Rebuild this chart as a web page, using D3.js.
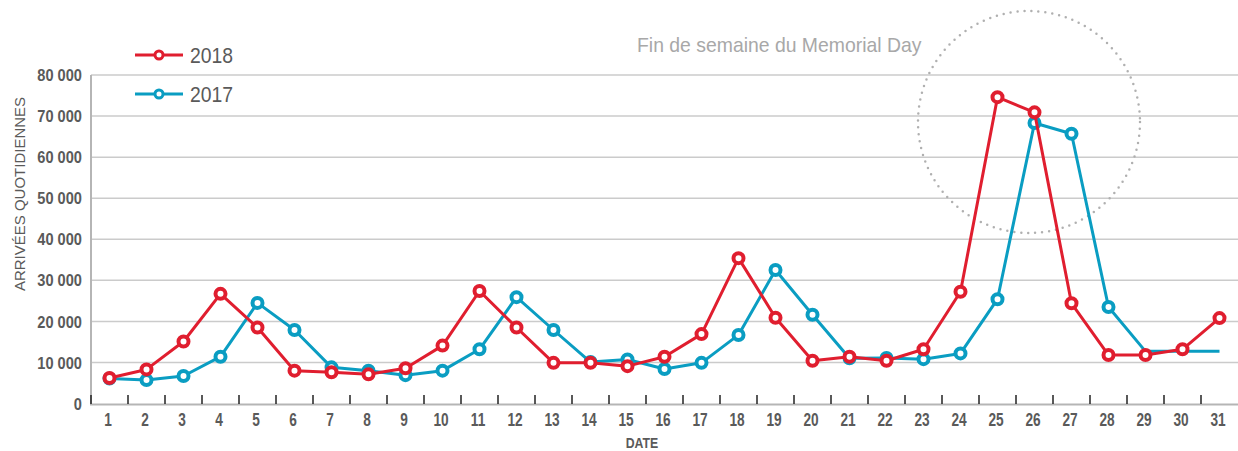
<!DOCTYPE html>
<html>
<head>
<meta charset="utf-8">
<script src="https://cdn.jsdelivr.net/npm/d3@7"></script>
<style>
  body { margin: 0; background: #fff; }
  svg text { font-family: "Liberation Sans", Arial, sans-serif; }
</style>
</head>
<body>
<div id="chart"></div>
<script>
// days of the month
const days = d3.range(1, 32);
// daily arrivals
const arrivals2018 = [6200, 8300, 15100, 26700, 18500, 8000, 7600, 7100, 8600, 14100,
  27400, 18500, 9900, 9900, 9100, 11400, 16900, 35400, 20900, 10400,
  11400, 10400, 13200, 27200, 74600, 70900, 24400, 11800, 11800, 13200, 20800];
const arrivals2017 = [6100, 5700, 6700, 11400, 24500, 17900, 8800, 8000, 6900, 8000,
  13200, 25900, 17900, 10100, 10700, 8400, 9900, 16700, 32500, 21600,
  11000, 11100, 10800, 12200, 25400, 68300, 65700, 23500, 12700, 12700, 12700];
const lastMarked2017 = 28;
const yTicks = [0, 10000, 20000, 30000, 40000, 50000, 60000, 70000, 80000];
const seriesNames = ["2018", "2017"];
const seriesColors = ["#e01e2f", "#0a9dc2"];

const width = 1238, height = 451;
const textGray = "#5a5a5a";
const svg = d3.select("#chart").append("svg")
    .attr("width", width)
    .attr("height", height);

const x = d3.scaleBand().domain(days).range([91, 1238]);
const y = d3.scaleLinear().domain([0, 80000]).range([403.5, 75]);
const cx = d => x(d) + x.bandwidth() / 2;
const fmt = v => d3.format(",")(v).replace(/,/g, " ");

// squeeze text horizontally to mimic the condensed face
function squeeze(sel, px, py, sx) {
  sel.attr("transform", (d, i) => `translate(${px(d, i)},${py(d, i)}) scale(${sx},1)`);
}

// gridlines
svg.append("g").selectAll("line").data(yTicks.slice(1)).enter().append("line")
    .attr("x1", 91).attr("x2", width)
    .attr("y1", d => y(d)).attr("y2", d => y(d))
    .attr("stroke", "#cbcbcb").attr("stroke-width", 1.5);

// y axis labels
svg.append("g").selectAll("text").data(yTicks).enter().append("text")
    .attr("dy", "0.36em")
    .attr("text-anchor", "end")
    .attr("font-size", 17).attr("font-weight", "bold").attr("fill", textGray)
    .text(d => fmt(d))
    .call(squeeze, () => 82, d => y(d), 0.86);

// axis lines
svg.append("line").attr("x1", 91).attr("x2", 91).attr("y1", 75).attr("y2", 404.5)
    .attr("stroke", "#b5b5b5").attr("stroke-width", 2);
svg.append("line").attr("x1", 90).attr("x2", width).attr("y1", 404.5).attr("y2", 404.5)
    .attr("stroke", "#b5b5b5").attr("stroke-width", 2);

// x ticks at band boundaries
svg.append("g").selectAll("line").data(days).enter().append("line")
    .attr("x1", d => x(d)).attr("x2", d => x(d))
    .attr("y1", 395).attr("y2", 404)
    .attr("stroke", "#222").attr("stroke-width", 1.5);

svg.append("g").selectAll("text").data(days).enter().append("text")
    .attr("text-anchor", "middle")
    .attr("font-size", 18).attr("font-weight", "bold").attr("fill", textGray)
    .text(d => d)
    .call(squeeze, d => cx(d) - 1.5, () => 425.5, 0.76);

svg.append("text")
    .attr("text-anchor", "middle")
    .attr("font-size", 15).attr("font-weight", "bold").attr("fill", textGray)
    .text("DATE")
    .call(squeeze, () => 642, () => 448, 0.82);

svg.append("text")
    .attr("transform", "translate(25,194) rotate(-90)")
    .attr("text-anchor", "middle")
    .attr("font-size", 15).attr("fill", textGray)
    .text("ARRIVÉES QUOTIDIENNES");

// annotation
svg.append("circle").attr("cx", 1029).attr("cy", 122).attr("r", 111)
    .attr("fill", "none").attr("stroke", "#b0b0b0").attr("stroke-width", 2.5)
    .attr("stroke-linecap", "round").attr("stroke-dasharray", "0 7");
svg.append("text")
    .attr("font-size", 20).attr("fill", "#a8a8a8")
    .text("Fin de semaine du Memorial Day")
    .call(squeeze, () => 637, () => 52, 0.97);

// series, 2017 first so 2018 sits on top
const line = d3.line().x(d => cx(d.day)).y(d => y(d.value));
const series = [
  { name: seriesNames[1], color: seriesColors[1],
    values: days.map((d, i) => ({ day: d, value: arrivals2017[i] })), marked: lastMarked2017 },
  { name: seriesNames[0], color: seriesColors[0],
    values: days.map((d, i) => ({ day: d, value: arrivals2018[i] })), marked: 31 }
];

series.forEach(s => {
  const g = svg.append("g");
  g.append("path").datum(s.values).attr("d", line)
      .attr("fill", "none").attr("stroke", s.color)
      .attr("stroke-width", 3).attr("stroke-linejoin", "round");
  g.selectAll("circle").data(s.values.filter(d => d.day <= s.marked)).enter().append("circle")
      .attr("cx", d => cx(d.day)).attr("cy", d => y(d.value)).attr("r", 5)
      .attr("fill", "#fff").attr("stroke", s.color).attr("stroke-width", 4);
});

// legend
const legend = svg.append("g").selectAll("g").data(seriesNames).enter().append("g")
    .attr("transform", (d, i) => `translate(0,${55 + i * 39})`);
legend.append("line").attr("x1", 135).attr("x2", 183)
    .attr("stroke", (d, i) => seriesColors[i]).attr("stroke-width", 3);
legend.append("circle").attr("cx", 159).attr("r", 4)
    .attr("fill", "#fff").attr("stroke", (d, i) => seriesColors[i]).attr("stroke-width", 3);
legend.append("text").attr("dy", "0.36em")
    .attr("font-size", 22).attr("fill", textGray)
    .text(d => d)
    .attr("transform", "translate(190,0) scale(0.88,1)");
</script>
</body>
</html>
